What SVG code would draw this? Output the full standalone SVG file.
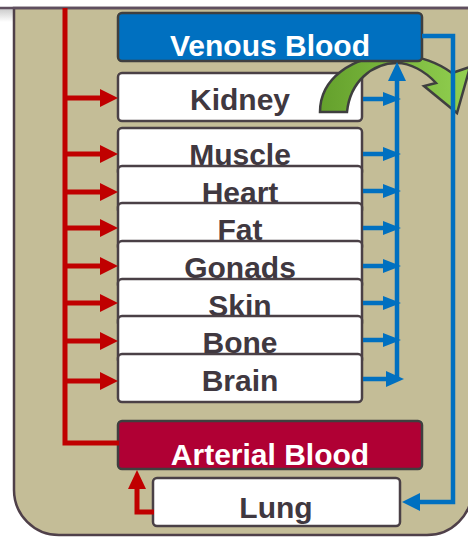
<svg xmlns="http://www.w3.org/2000/svg" width="468" height="537" viewBox="0 0 468 537">
<defs>
<linearGradient id="gr" x1="0" y1="0" x2="1" y2="0">
<stop offset="0" stop-color="#64a02c"/>
<stop offset="1" stop-color="#92d050"/>
</linearGradient>
<linearGradient id="sh" x1="0" y1="0" x2="0" y2="1">
<stop offset="0" stop-color="#c8c8c8"/>
<stop offset="1" stop-color="#ffffff"/>
</linearGradient>
</defs>
<style>
.box{fill:#ffffff;stroke:#4a4046;stroke-width:2.5}
.lbl{font-family:"Liberation Sans",Arial,sans-serif;font-weight:bold;font-size:30px;fill:#403840;text-anchor:middle}
.wl{font-family:"Liberation Sans",Arial,sans-serif;font-weight:bold;font-size:30px;fill:#ffffff;text-anchor:middle}
.red{stroke:#c00000;stroke-width:5;fill:none}
.blue{stroke:#0070c0;stroke-width:4.5;fill:none}
.rh{fill:#c00000}
.bh{fill:#0070c0}
</style>
<rect x="0" y="0" width="468" height="537" fill="#ffffff"/>
<rect x="0" y="8" width="14" height="14" fill="url(#sh)"/>
<path d="M14,8 V490 A45,45 0 0 0 59,535 H427 A45,45 0 0 0 472,490 V8 Z" fill="#c4bd97" stroke="#4f4049" stroke-width="2.5"/>
<line x1="0" y1="8" x2="468" y2="8" stroke="#5f4f5f" stroke-width="2.5"/>

<g id="kidney"><rect class="box" x="118" y="73" width="244" height="48" rx="4"/><text class="lbl" x="240" y="110">Kidney</text></g>
<g id="muscle"><rect class="box" x="118" y="128" width="244" height="48" rx="4"/><text class="lbl" x="240" y="165">Muscle</text></g>
<g id="heart"><rect class="box" x="118" y="166" width="244" height="48" rx="4"/><text class="lbl" x="240" y="203">Heart</text></g>
<g id="fat"><rect class="box" x="118" y="203" width="244" height="48" rx="4"/><text class="lbl" x="240" y="240">Fat</text></g>
<g id="gonads"><rect class="box" x="118" y="241" width="244" height="48" rx="4"/><text class="lbl" x="240" y="278">Gonads</text></g>
<g id="skin"><rect class="box" x="118" y="279" width="244" height="48" rx="4"/><text class="lbl" x="240" y="316">Skin</text></g>
<g id="bone"><rect class="box" x="118" y="316" width="244" height="48" rx="4"/><text class="lbl" x="240" y="353">Bone</text></g>
<g id="brain"><rect class="box" x="118" y="354" width="244" height="48" rx="4"/><text class="lbl" x="240" y="391">Brain</text></g>

<g id="recycle">
<path d="M320,112 C320,80 350,55 397,55 C420,55 440,64 452,73 L470,67 L457,113 L424,86 L436,83 C425,71 410,63 397,63 C372,63 350,82 347,112 Z" fill="url(#gr)" stroke="#3f3f3f" stroke-width="2.5" stroke-linejoin="miter"/>
</g>

<g id="venous"><rect x="118" y="13" width="304" height="48" rx="4" fill="#0070c0" stroke="#3f3f3f" stroke-width="2.5"/><text class="wl" x="270" y="56">Venous Blood</text></g>
<g id="arterial"><rect x="118" y="421" width="304" height="48" rx="4" fill="#b00034" stroke="#3f3f3f" stroke-width="2.5"/><text class="wl" x="270" y="465">Arterial Blood</text></g>
<g id="lung"><rect class="box" x="153" y="478" width="247" height="48" rx="4"/><text class="lbl" x="276" y="518">Lung</text></g>

<g id="connectors">
<path class="red" d="M65,8 V443 H119"/>
<path class="red" d="M65,98 H104 M65,154 H104 M65,192 H104 M65,228 H104 M65,266 H104 M65,303 H104 M65,341 H104 M65,381 H104"/>
<path class="rh" d="M100,89 L118,98 L100,107 Z M100,145 L118,154 L100,163 Z M100,183 L118,192 L100,201 Z M100,219 L118,228 L100,237 Z M100,257 L118,266 L100,275 Z M100,294 L118,303 L100,312 Z M100,332 L118,341 L100,350 Z M100,372 L118,381 L100,390 Z"/>
<path class="red" d="M154,512 H137 V486"/>
<path class="rh" d="M128,489 L137,470 L146,489 Z"/>
<path class="blue" d="M397,380 V78"/>
<path class="bh" d="M388,81 L397,62 L406,81 Z"/>
<path class="blue" d="M363,99 H388 M363,154 H388 M363,191 H388 M363,228 H388 M363,266 H388 M363,303 H388 M363,340 H388 M363,379 H388"/>
<path class="bh" d="M383,92 L401,99 L383,106 Z M383,147 L401,154 L383,161 Z M383,184 L401,191 L383,198 Z M383,221 L401,228 L383,235 Z M383,259 L401,266 L383,273 Z M383,296 L401,303 L383,310 Z M383,333 L401,340 L383,347 Z M386,371 L404,379 L386,387 Z"/>
<path class="blue" d="M422,36 H453 V502 H416"/>
<path class="bh" d="M420,493 L402,502 L420,511 Z"/>
</g>
</svg>
